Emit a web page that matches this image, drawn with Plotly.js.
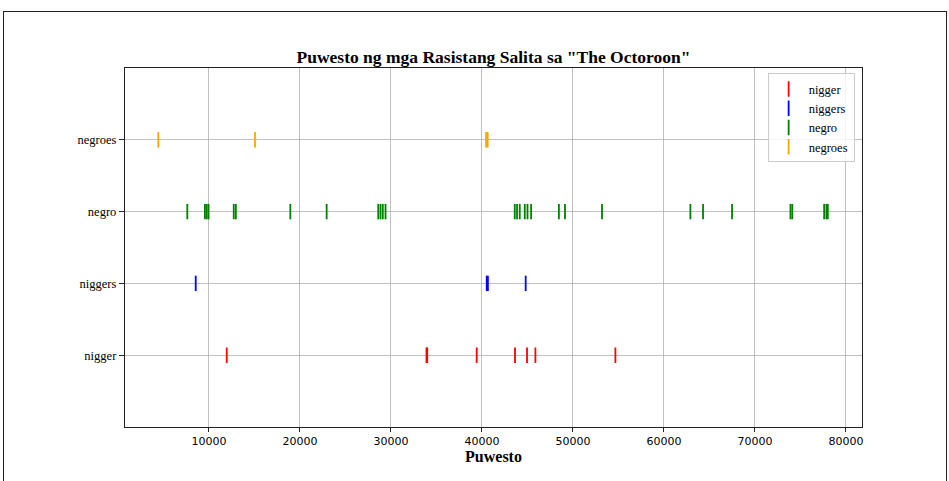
<!DOCTYPE html>
<html>
<head>
<meta charset="utf-8">
<script src="https://cdn.plot.ly/plotly-3.0.1.min.js"></script>
<style>
html,body{margin:0;padding:0;background:#fff;}
#wrap{position:relative;width:949px;height:481px;overflow:hidden;}
#chart{position:absolute;left:0;top:0;width:949px;height:481px;}
#frame{position:absolute;left:3px;top:11px;width:942px;height:480px;border:1.5px solid #222;pointer-events:none;}
</style>
</head>
<body>
<div id="wrap"><div id="chart"></div><div id="frame"></div></div>
<script>
// categories (bottom to top)
const categories = ["nigger", "niggers", "negro", "negroes"];
const colors = ["red", "blue", "green", "orange"];

// word positions in the text
const niggerPos = [11950, 33900, 33980, 39420, 43630, 44950, 45870, 54660];
const niggersPos = [8540, 40520, 40650, 44800];
const negroPos = [7615, 9550, 9750, 9950, 12720, 12950, 18940, 22930,
  28600, 28850, 29100, 29400, 43600, 43850, 44150, 44700, 45000, 45400,
  48450, 49120, 53190, 62900, 64290, 67480, 73900, 74100, 77600, 77850, 78000];
const negroesPos = [4430, 15055, 40450, 40620];

const xTicks = [10000, 20000, 30000, 40000, 50000, 60000, 70000, 80000];

const series = [niggerPos, niggersPos, negroPos, negroesPos];

const traces = series.map((arr, i) => ({
  type: "scatter",
  mode: "markers",
  name: categories[i],
  x: arr,
  y: arr.map(() => categories[i]),
  marker: {symbol: "line-ns", size: 11, color: colors[i], line: {color: colors[i], width: 1.8}},
  hoverinfo: "x+name"
}));

const layout = {
  width: 949, height: 481,
  margin: {l: 125, r: 87, t: 68, b: 54},
  paper_bgcolor: "#fff", plot_bgcolor: "#fff",
  title: {
    text: "Puwesto ng mga Rasistang Salita sa \"The Octoroon\"",
    font: {family: "Liberation Serif", size: 17.5, color: "#000", weight: "bold"},
    x: 0.5, xref: "paper", y: 1 - 57 / 481, yref: "container", yanchor: "middle"
  },
  xaxis: {
    range: [770, 81760],
    tickvals: xTicks,
    ticktext: xTicks.map(String),
    showgrid: true, gridcolor: "#b0b0b0", gridwidth: 0.8,
    zeroline: false,
    showline: true, mirror: true, linecolor: "#222", linewidth: 1.2,
    ticks: "outside", ticklen: 4, tickcolor: "#222", tickwidth: 1,
    tickfont: {family: "DejaVu Sans", size: 11, color: "#000"},
    title: {text: "Puwesto", font: {family: "Liberation Serif", size: 16, color: "#000", weight: "bold"}, standoff: 3}
  },
  yaxis: {
    type: "category",
    categoryorder: "array", categoryarray: categories,
    range: [-1, 4],
    showgrid: true, gridcolor: "#b0b0b0", gridwidth: 0.8,
    zeroline: false,
    showline: true, mirror: true, linecolor: "#222", linewidth: 1.2,
    ticks: "outside", ticklen: 5, tickcolor: "#222", tickwidth: 1,
    tickfont: {family: "Liberation Serif", size: 12.5, color: "#000"}
  },
  legend: {
    x: 0.99, xanchor: "right", y: 0.985, yanchor: "top",
    bgcolor: "rgba(255,255,255,0.8)", bordercolor: "#cccccc", borderwidth: 1,
    font: {family: "Liberation Serif", size: 12.5, color: "#000"},
    tracegroupgap: 0, itemwidth: 30
  },
  showlegend: true
};

Plotly.newPlot("chart", traces, layout, {displayModeBar: false, staticPlot: true});
</script>
</body>
</html>
